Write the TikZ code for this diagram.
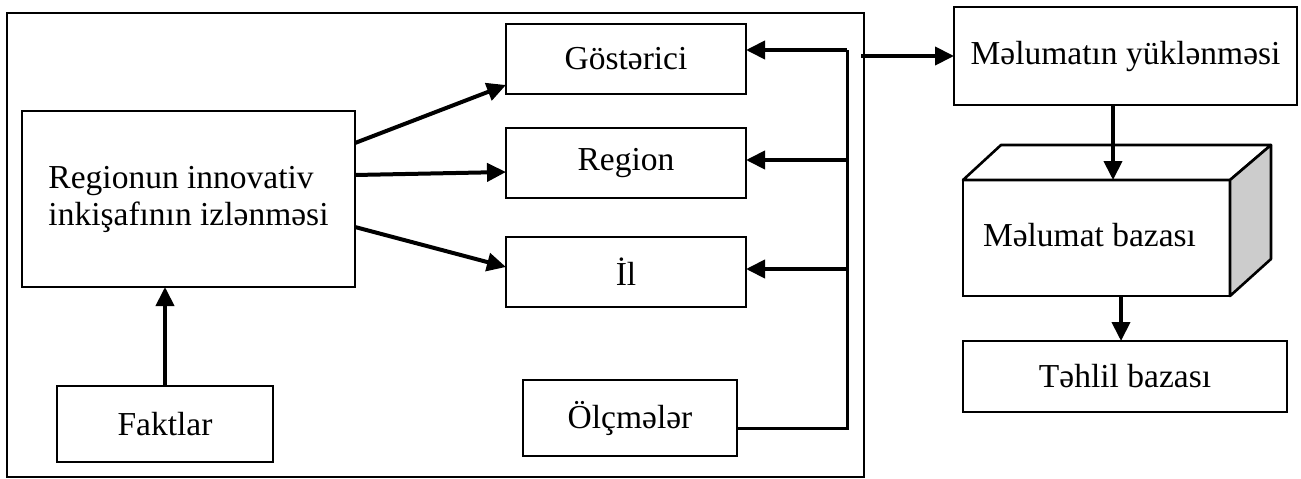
\documentclass[tikz,border=0pt]{standalone}
\usepackage{fontspec}
\setmainfont{Liberation Serif}
\usetikzlibrary{arrows.meta,calc}
\begin{document}
\begin{tikzpicture}[x=1pt,y=-1pt,
  every node/.style={inner sep=0pt,outer sep=0pt,font=\fontsize{33.5}{37}\selectfont},
  box/.style={draw,line width=2.6pt,rectangle},
  arr/.style={line width=4pt,-{Triangle[length=19pt,width=18pt]}},
  bus/.style={line width=3pt}]
\useasboundingbox (0,0) rectangle (1301,479);

% outer frame of the monitoring block
\node[draw,line width=2pt,minimum width=857pt,minimum height=464pt] (outer) at (435.5,245) {};

% left part
\node[box,minimum width=333pt,minimum height=176pt,align=left] (main) at (188.5,199)
  {Regionun innovativ\\inkişafının izlənməsi};
\node[box,minimum width=216pt,minimum height=76pt] (fak) at (165,424) {Faktlar};

% dimension boxes
\node[box,minimum width=240pt,minimum height=70pt] (gos) at (626,59) {Göstərici};
\node[box,minimum width=240pt,minimum height=70pt] (reg) at (626,163) {Region};
\node[box,minimum width=240pt,minimum height=70pt] (il) at (626,272) {İl};
\node[box,minimum width=214pt,minimum height=76pt] (olc) at (630,418) {Ölçmələr};

% right column
\node[box,minimum width=343pt,minimum height=98pt] (yuk) at (1125.5,56) {Məlumatın yüklənməsi};
\node[box,minimum width=267pt,minimum height=116pt] (db) at (1096.5,238) {};
\node at ($(db.center)+(-7,-3)$) {Məlumat bazası};
\node[box,minimum width=324pt,minimum height=71pt] (thl) at (1125,376.5) {Təhlil bazası};

% 3D faces of the database block
\draw[line width=2.6pt,line join=round,fill=white]
  (db.north west) -- ++(38,-35) -- ($(db.north east)+(41,-35)$) -- (db.north east) -- cycle;
\draw[line width=2.6pt,line join=round,fill=black!20]
  (db.north east) -- ++(41,-35) -- ($(db.south east)+(41,-37)$) -- (db.south east) -- cycle;

% bus collecting the dimensions
\coordinate (b1) at (847,50);
\coordinate (b2) at (847,160);
\coordinate (b3) at (847,269);
\coordinate (b4) at (847,428);
\draw[bus,line join=miter] (olc.east |- b4) -- (b4) -- (b1);
\draw[arr] (b1) -- (gos.east |- b1);
\draw[arr] (b2) -- (reg.east |- b2);
\draw[arr] (b3) -- (il.east |- b3);

% arrows of the left part
\draw[arr] (fak.north) -- (main.south -| fak.north);
\draw[arr] ([yshift=56pt]main.east) -- ([yshift=-26pt]gos.west);
\draw[arr] ([yshift=24pt]main.east) -- ([yshift=-9pt]reg.west);
\draw[arr] ([yshift=-28pt]main.east) -- ([yshift=5pt]il.west);

% data flow on the right
\draw[arr] ([xshift=-3pt]outer.east |- yuk.west) -- (yuk.west);
\draw[arr] ([xshift=-12.5pt]yuk.south) -- ([xshift=16.5pt]db.north);
\draw[arr] ([xshift=24.5pt]db.south) -- ([xshift=-4pt]thl.north);
\end{tikzpicture}
\end{document}
